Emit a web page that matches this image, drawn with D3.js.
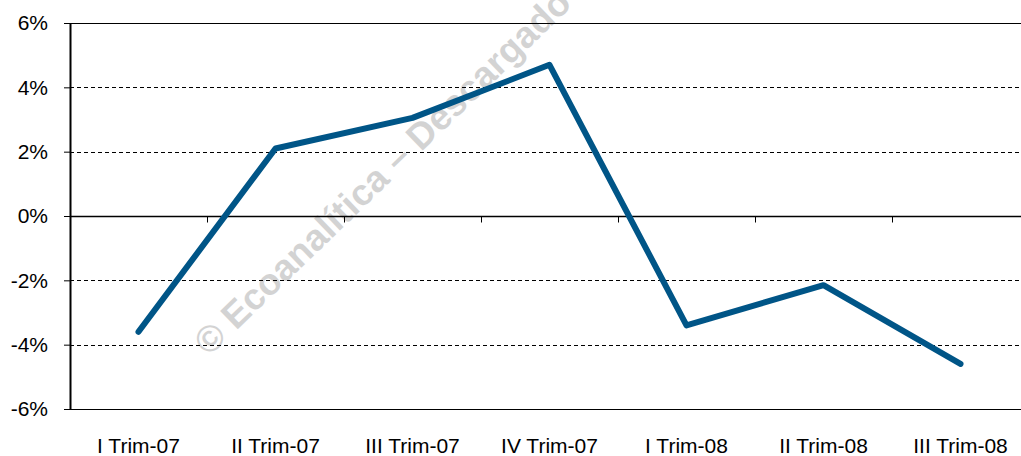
<!DOCTYPE html>
<html>
<head>
<meta charset="utf-8">
<script src="https://cdn.jsdelivr.net/npm/d3@7"></script>
<style>
  body { margin: 0; background: #fff; }
  svg { display: block; font-family: "Liberation Sans", Arial, sans-serif; }
</style>
</head>
<body>
<svg id="chart" width="1021" height="456"></svg>
<script>
// Quarterly variation (%)
const quarters = ['I Trim-07', 'II Trim-07', 'III Trim-07', 'IV Trim-07', 'I Trim-08', 'II Trim-08', 'III Trim-08'];
const values = [-3.6, 2.1, 3.05, 4.7, -3.4, -2.15, -4.6];
const yTicks = [-6, -4, -2, 0, 2, 4, 6];

const margin = { top: 23, right: -8, bottom: 47, left: 70 };
const width = 1021 - margin.left - margin.right;
const height = 456 - margin.top - margin.bottom;

const svg = d3.select('#chart')
  .append('g')
  .attr('transform', `translate(${margin.left},${margin.top})`);

const x = d3.scaleBand().domain(quarters).range([0, width]);
const y = d3.scaleLinear().domain([-6, 6]).range([height, 0]);

// gridlines (solid at the edges, dashed inside)
svg.append('g')
  .selectAll('line')
  .data(yTicks.filter(d => d !== 0))
  .enter()
  .append('line')
  .attr('x1', 0)
  .attr('x2', width)
  .attr('y1', d => Math.round(y(d)) + 0.5)
  .attr('y2', d => Math.round(y(d)) + 0.5)
  .attr('stroke', '#000')
  .attr('stroke-width', 1.2)
  .attr('stroke-dasharray', d => (d === 6 || d === -6) ? null : '4,3');

// watermark
svg.append('text')
  .attr('transform', 'translate(139,334) rotate(-44)')
  .attr('fill', '#000')
  .attr('opacity', 0.17)
  .style('font-size', '37px')
  .style('font-weight', 'bold')
  .text('© Ecoanalítica – Descargado');

// y axis
const yAxis = svg.append('g')
  .call(d3.axisLeft(y).tickValues(yTicks).tickFormat(d => d + '%').tickSize(6).tickSizeOuter(0));
yAxis.select('.domain').attr('stroke', '#000').attr('stroke-width', 2);
yAxis.selectAll('.tick line').attr('stroke', '#000');
yAxis.selectAll('.tick text')
  .attr('x', -22)
  .attr('fill', '#000')
  .style('font-size', '21px');

// zero line with ticks between categories
const zero = svg.append('g').attr('transform', `translate(0,${Math.round(y(0)) + 0.5})`);
zero.append('line')
  .attr('x1', 0).attr('x2', width)
  .attr('stroke', '#000').attr('stroke-width', 1.5);
zero.selectAll('.qt')
  .data(quarters.slice(1))
  .enter()
  .append('line')
  .attr('x1', d => Math.round(x(d)) + 0.5)
  .attr('x2', d => Math.round(x(d)) + 0.5)
  .attr('y1', 0).attr('y2', 6)
  .attr('stroke', '#000');

// x labels
const xAxis = svg.append('g')
  .attr('transform', `translate(0,${height})`)
  .call(d3.axisBottom(x).tickSize(0));
xAxis.select('.domain').remove();
xAxis.selectAll('.tick text')
  .attr('y', 29)
  .attr('fill', '#000')
  .style('font-size', '21px');

// line
const line = d3.line()
  .x((d, i) => x(quarters[i]) + x.bandwidth() / 2)
  .y(d => y(d));

svg.append('path')
  .datum(values)
  .attr('d', line)
  .attr('fill', 'none')
  .attr('stroke', '#005587')
  .attr('stroke-width', 6)
  .attr('stroke-linejoin', 'round')
  .attr('stroke-linecap', 'round');
</script>
</body>
</html>
